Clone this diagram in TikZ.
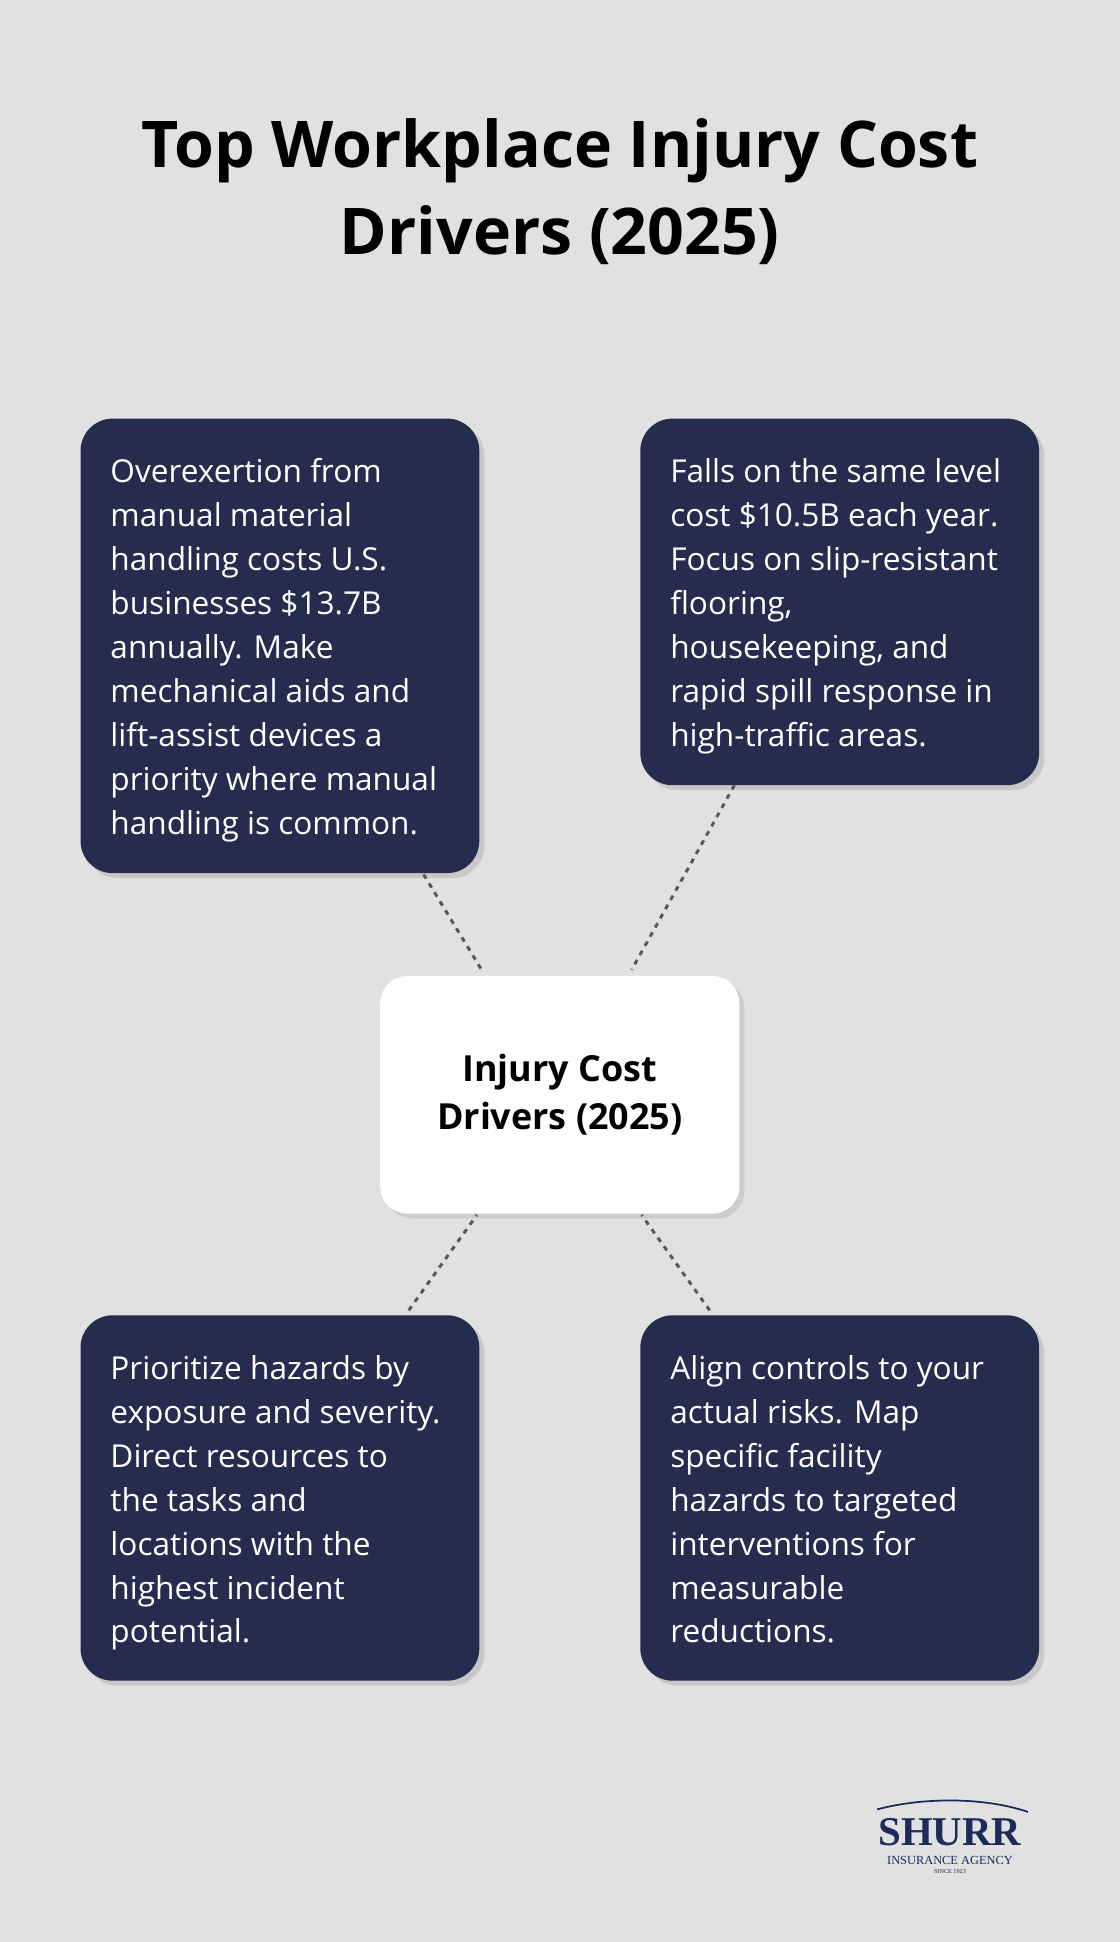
\documentclass[tikz,border=0pt]{standalone}
\usepackage{fontspec}
\setmainfont{Open Sans}
\newfontfamily\logofont{Liberation Serif}
\usetikzlibrary{shadows}
\definecolor{bgcol}{HTML}{E0E1E0}
\definecolor{navy}{HTML}{252C4E}
\definecolor{logoblue}{HTML}{1E2A5A}
\tikzset{
  card/.style={fill=navy, rounded corners=26pt, draw=none,
    drop shadow={shadow xshift=4pt, shadow yshift=-4pt, opacity=0.25}},
  cardtext/.style={text=white, text width=268pt, align=flush left, anchor=north west,
    inner sep=0pt, font=\fontsize{25.5}{35.5}\selectfont},
  hub/.style={fill=white, rounded corners=22pt, minimum width=290pt, minimum height=192pt,
    align=center, font=\fontsize{29}{39}\selectfont\bfseries,
    drop shadow={shadow xshift=4pt, shadow yshift=-4pt, opacity=0.2}},
  link/.style={draw=black!65, line width=2.4pt, dash pattern=on 4pt off 4.5pt},
  logotext/.style={text=logoblue, inner sep=0pt}
}
\begin{document}
\begin{tikzpicture}[x=1pt,y=1pt]
% background
\fill[bgcol] (0,0) rectangle (904,1568);
\useasboundingbox (0,0) rectangle (904,1568);

% title
\node[font=\fontsize{52}{70}\selectfont\bfseries, align=center] (title) at (452,1413)
  {Top Workplace Injury Cost\\Drivers (2025)};

% cards
\path[card] (65,863) rectangle (387,1230);
\node[cardtext] (overexertion) at (89,1198) {Overexertion from manual material handling costs U.S. businesses \$13.7B annually. Make mechanical aids and lift-assist devices a priority where manual handling is common.};
\path[card] (517,934) rectangle (839,1230);
\node[cardtext] (falls) at (541,1198) {Falls on the same level cost \$10.5B each year. Focus on slip-resistant flooring, housekeeping, and rapid spill response in high-traffic areas.};
\path[card] (65,211) rectangle (387,506);
\node[cardtext] (prioritize) at (89,474) {Prioritize hazards by\\exposure and severity.\\Direct resources to\\the tasks and\\locations with the\\highest incident\\potential.};
\path[card] (517,211) rectangle (839,506);
\node[cardtext] (align) at (541,474) {Align controls to your actual risks. Map specific facility hazards to targeted interventions for measurable reductions.};

% hub
\node[hub] (hub) at (452,684) {Injury Cost\\Drivers (2025)};

% connectors
\coordinate (tl) at (342,862);
\coordinate (tr) at (593,934);
\coordinate (bl) at (330,510);
\coordinate (br) at (573,510);
\draw[link] (tl) -- (390,783);
\draw[link] (tr) -- (510,785);
\draw[link] (bl) -- (385,587);
\draw[link] (br) -- (518,587);

% logo
\draw[logoblue, line width=1.4pt] (708,107) .. controls (745,117) and (795,117) .. (830,105);
\node[logotext, font=\logofont\fontsize{33}{33}\selectfont\bfseries] (logo) at (767,89) {SHURR};
\node[logotext, font=\logofont\fontsize{10}{10}\selectfont] (agency) at (767,66) {INSURANCE AGENCY};
\node[logotext, font=\logofont\fontsize{5}{5}\selectfont] (since) at (767,57) {SINCE 1923};
\end{tikzpicture}
\end{document}
